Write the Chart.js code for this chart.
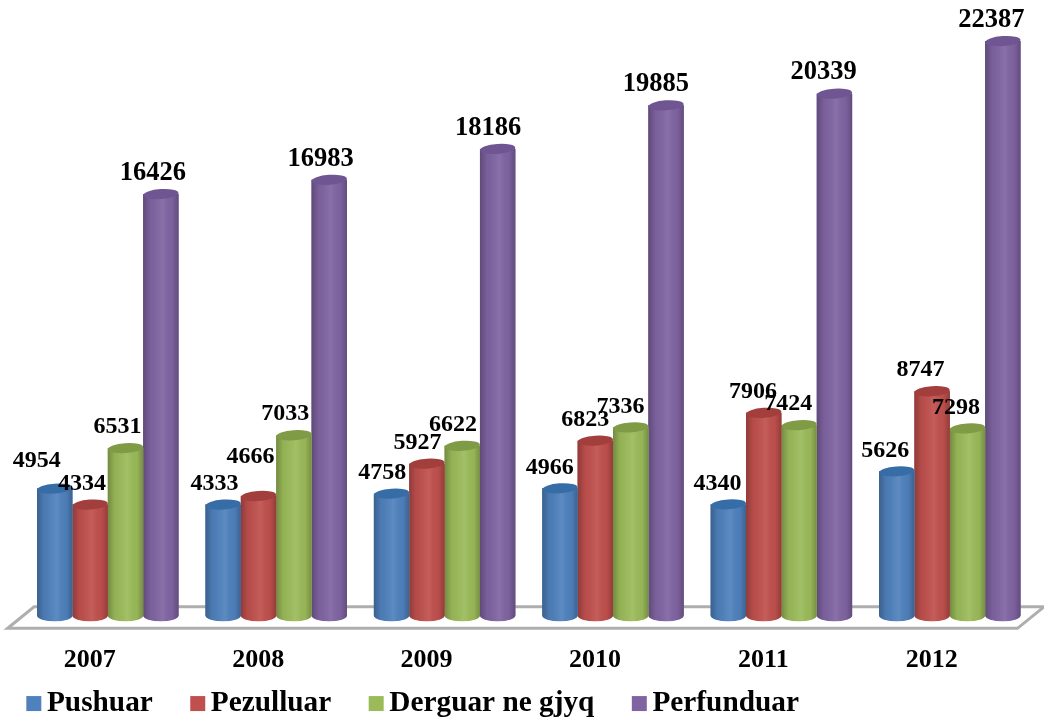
<!DOCTYPE html>
<html>
<head>
<meta charset="utf-8">
<style>
html,body{margin:0;padding:0;background:#fff;}
#wrap{position:relative;width:1044px;height:717px;overflow:hidden;}
</style>
<script src="https://cdn.jsdelivr.net/npm/chart.js@4"></script>
</head>
<body>
<div id="wrap"><canvas id="c" width="1044" height="717"></canvas></div>
<script>
const years = ['2007','2008','2009','2010','2011','2012'];
const pushuar = [4954,4333,4758,4966,4340,5626];
const pezulluar = [4334,4666,5927,6823,7906,8747];
const derguar = [6531,7033,6622,7336,7424,7298];
const perfunduar = [16426,16983,18186,19885,20339,22387];

const SERIF = '"Liberation Serif","Times New Roman",serif';
const capColors = ['#376da7','#a23f3c','#7f9b45','#6f5592'];
const labelExceptions = {'0-0':[-18,-28],'1-1':[-8,-39]};

function legendSwatch(color){
  const cv = document.createElement('canvas');
  cv.width = 20; cv.height = 17;
  const g = cv.getContext('2d');
  g.fillStyle = color;
  g.fillRect(4,1,15,15);
  return cv;
}

const cylinder = {
  id:'cylinder',
  beforeInit(chart){
    const lg = chart.legend, fit = lg.fit;
    lg.fit = function(){ fit.call(lg); lg.height = 11; };
  },
  afterLayout(chart){
    const lg = chart.legend;
    lg.left = -11.1; lg.right = 1044;
    lg.top = 688.9 - 43.4; lg.bottom = 717;
  },
  beforeDatasetsDraw(chart){
    const {ctx, chartArea:a} = chart;
    ctx.save();
    ctx.strokeStyle = '#aeaeae';
    ctx.lineWidth = 3;
    ctx.lineJoin = 'miter';
    ctx.beginPath();
    ctx.moveTo(a.left-16, a.bottom+12.5);
    ctx.lineTo(a.right-16.5, a.bottom+12.5);
    ctx.lineTo(a.right+10, a.bottom-9);
    ctx.lineTo(a.left+10.5, a.bottom-9);
    ctx.closePath();
    ctx.stroke();
    ctx.restore();
  },
  afterDatasetDraw(chart,args){
    const {ctx, chartArea:a} = chart;
    const di = args.index, meta = args.meta;
    const base = a.bottom;
    meta.data.forEach(bar=>{
      const w = bar.width, l = bar.x - w/2, rx = w/2, ry = 5.5;
      const color = chart.data.datasets[di].backgroundColor;
      ctx.save();
      ctx.beginPath();
      ctx.moveTo(l, bar.y);
      ctx.lineTo(l, base);
      ctx.ellipse(bar.x, base, rx, ry, 0, Math.PI, 0, true);
      ctx.lineTo(l+w, bar.y);
      ctx.closePath();
      ctx.fillStyle = color;
      ctx.fill();
      const g = ctx.createLinearGradient(l,0,l+w,0);
      g.addColorStop(0,'rgba(0,0,0,.26)');
      g.addColorStop(.2,'rgba(0,0,0,.05)');
      g.addColorStop(.55,'rgba(255,255,255,.08)');
      g.addColorStop(.82,'rgba(0,0,0,.03)');
      g.addColorStop(1,'rgba(0,0,0,.24)');
      ctx.fillStyle = g;
      ctx.fill();
      ctx.beginPath();
      ctx.ellipse(bar.x, bar.y, rx, ry-0.5, -0.07, 0, Math.PI*2);
      ctx.fillStyle = capColors[di];
      ctx.fill();
      ctx.restore();
    });
  },
  afterDatasetsDraw(chart){
    const {ctx} = chart;
    ctx.save();
    ctx.fillStyle = '#000';
    ctx.textAlign = 'center';
    ctx.textBaseline = 'middle';
    chart.data.datasets.forEach((ds,di)=>{
      ctx.font = 'bold '+(di===3?26.5:24)+'px '+SERIF;
      chart.getDatasetMeta(di).data.forEach((bar,i)=>{
        const ex = labelExceptions[i+'-'+di];
        const dx = ex ? ex[0] : -8 - 0.7*i;
        const dy = ex ? ex[1] : -21;
        ctx.fillText(String(ds.data[i]), bar.x+dx, bar.y+dy);
      });
    });
    ctx.restore();
  }
};

new Chart(document.getElementById('c'),{
  type:'bar',
  data:{
    labels:years,
    datasets:[
      {label:'Pushuar',data:pushuar,backgroundColor:'#4f81bd'},
      {label:'Pezulluar',data:pezulluar,backgroundColor:'#c0504d'},
      {label:'Derguar ne gjyq',data:derguar,backgroundColor:'#9bbb59'},
      {label:'Perfunduar',data:perfunduar,backgroundColor:'#8064a2'}
    ]
  },
  options:{
    responsive:false,
    animation:false,
    layout:{padding:{left:23.6,right:10,top:12.5,bottom:1}},
    datasets:{bar:{barPercentage:1,categoryPercentage:0.84,borderWidth:0}},
    plugins:{
      title:{display:false},
      tooltip:{enabled:false},
      legend:{
        display:true,
        position:'bottom',
        align:'start',
        labels:{
          usePointStyle:true,
          boxWidth:0.01,
          padding:43.4,
          color:'#000',
          font:{family:SERIF,size:29.3,weight:'bold'},
          generateLabels(chart){
            return Chart.defaults.plugins.legend.labels.generateLabels(chart).map(it=>{
              it.pointStyle = legendSwatch(chart.data.datasets[it.datasetIndex].backgroundColor);
              return it;
            });
          }
        }
      }
    },
    scales:{
      x:{
        grid:{display:false,drawTicks:false},
        border:{display:false},
        ticks:{color:'#000',padding:29,labelOffset:-18,maxRotation:0,font:{family:SERIF,size:26,weight:'bold'}}
      },
      y:{display:false,min:0,max:23500}
    }
  },
  plugins:[cylinder]
});
</script>
</body>
</html>
